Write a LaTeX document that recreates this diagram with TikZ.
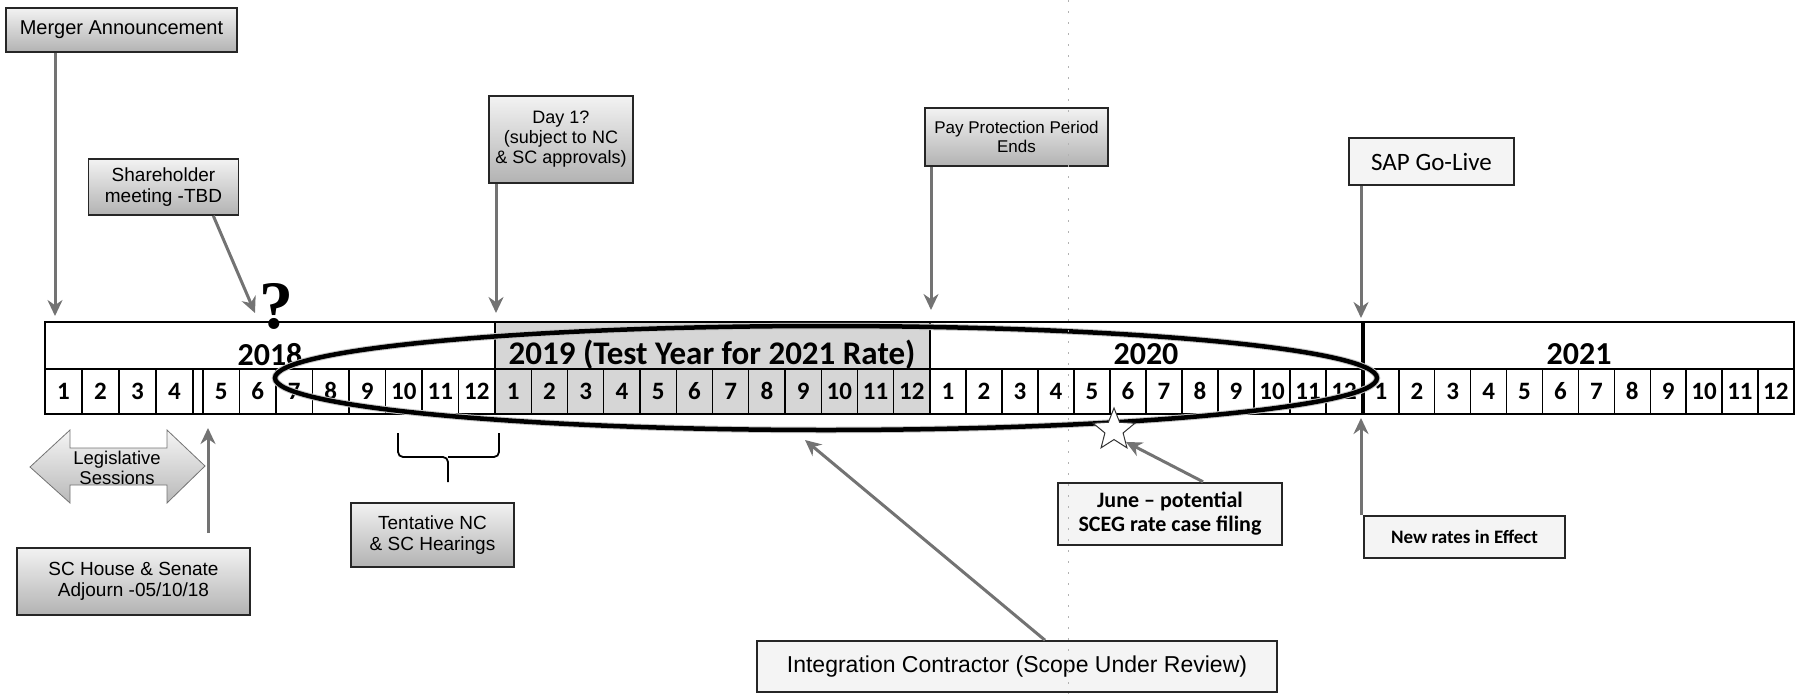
\documentclass[tikz,border=0pt]{standalone}
\usepackage{fontspec}
\setmainfont{Liberation Sans}
\newfontfamily\calibrifont{Carlito}
\newfontfamily\qmarkfont{Liberation Serif}
\usetikzlibrary{arrows.meta, positioning, calc, shapes.geometric}

\begin{document}
\begin{tikzpicture}[x=1pt, y=-1pt,
    darkbox/.style={draw=black!85, line width=1.6pt, top color=gray!10, bottom color=gray!60,
                    align=center, inner sep=0pt, font=\fontsize{19}{20.5}\selectfont},
    lightbox/.style={draw=black!85, line width=1.6pt, fill=gray!9, inner sep=0pt},
    pointer/.style={draw=black!55, line width=3pt, -{Stealth[length=16pt, width=15pt]}},
    month/.style={anchor=base, inner sep=0pt, font=\calibrifont\bfseries\fontsize{25}{25}\selectfont},
    yearlabel/.style={anchor=base, inner sep=0pt, font=\calibrifont\bfseries\fontsize{32}{32}\selectfont}]

    % Canvas
    \useasboundingbox (0,0) rectangle (1796,694);

    % Test year shading
    \fill[gray!32] (495,322) rectangle (930,414);

    % Month row
    \draw[line width=1.3pt] (45,369) -- (1794,369);
    \foreach \m in {1,...,4} {
        \node[month] (m18-\m) at ({45+37*(\m-0.5)},399) {\m};
        \draw[line width=1.3pt] ({45+37*\m},369) -- ++(0,45);
    }
    \draw[line width=1.3pt] (203,369) -- (203,414);
    \foreach \m in {5,...,12}
        \node[month] (m18-\m) at ({203+36.5*(\m-4.5)},399) {\m};
    \foreach \m in {5,...,11}
        \draw[line width=1.3pt] ({203+36.5*(\m-4)},369) -- ++(0,45);
    \foreach \yr/\xs/\w in {19/495/36.25, 20/930/36, 21/1363/35.9} {
        \foreach \m in {1,...,12}
            \node[month] (m\yr-\m) at ({\xs+\w*(\m-0.5)},399) {\m};
        \foreach \m in {1,...,11}
            \draw[line width=1.3pt] ({\xs+\w*\m},369) -- ++(0,45);
    }

    % Year labels
    \node[yearlabel] (y18) at (270,365) {2018};
    \node[yearlabel, font=\calibrifont\bfseries\fontsize{33}{33}\selectfont] (y19) at (712,364) {2019 (Test Year for 2021 Rate)};
    \node[yearlabel] (y20) at (1146,364) {2020};
    \node[yearlabel] (y21) at (1579,364) {2021};

    % Frame and year dividers
    \draw[line width=2.8pt] (45,322) rectangle (1794,414);
    \foreach \xb in {495,930}
        \draw[line width=2.5pt] (\xb,322) -- (\xb,414);
    \draw[line width=3.5pt] (1363,322) -- (1363,414);

    % Integration window
    \draw[gray!45, line width=6.5pt] (826,378) ellipse [x radius=551, y radius=52];
    \draw[line width=4.5pt] (826,378) ellipse [x radius=551, y radius=52];

    % Star and question mark
    \node[star, star points=5, star point ratio=2.3, minimum size=44pt, inner sep=0pt,
          draw=black!80, line width=1pt, fill=white] (star) at (1114,430) {};
    \node[anchor=base, inner sep=0pt, font=\qmarkfont\bfseries\fontsize{68}{68}\selectfont] (qmark) at (276,328) {?};

    % Callout boxes
    \node[darkbox, minimum width=231pt, minimum height=44pt, font=\fontsize{20}{22}\selectfont] (merger) at (121.5,30) {Merger Announcement};
    \node[darkbox, minimum width=150pt, minimum height=56pt] (holder) at (163.5,187) {Shareholder\\meeting -TBD};
    \node[darkbox, minimum width=144pt, minimum height=87pt, font=\fontsize{18}{20}\selectfont] (dayone) at (561,139.5) {Day 1?\\(subject to NC\\\& SC approvals)};
    \node[darkbox, minimum width=183pt, minimum height=58pt, font=\fontsize{17}{19}\selectfont] (payend) at (1016.5,137) {Pay Protection Period\\Ends};
    \node[lightbox, minimum width=165pt, minimum height=47pt, font=\calibrifont\fontsize{25}{25}\selectfont] (sap) at (1431.5,161.5) {SAP Go-Live};
    \node[darkbox, minimum width=233pt, minimum height=67pt] (adjourn) at (133.5,581.5) {SC House \& Senate\\Adjourn -05/10/18};
    \node[darkbox, minimum width=163pt, minimum height=64pt] (hearings) at (432.5,535) {Tentative NC\\\& SC Hearings};
    \node[lightbox, line width=2.5pt, minimum width=224pt, minimum height=62pt, align=center,
          font=\calibrifont\bfseries\fontsize{22}{24}\selectfont] (june) at (1170,514) {June – potential\\SCEG rate case filing};
    \node[lightbox, minimum width=201pt, minimum height=42pt,
          font=\calibrifont\bfseries\fontsize{19}{21}\selectfont] (newrates) at (1464.5,537) {New rates in Effect};
    \node[lightbox, minimum width=520pt, minimum height=51pt,
          font=\fontsize{23}{24}\selectfont] (integ) at (1017,666.5) {Integration Contractor (Scope Under Review)};

    % Legislative sessions
    \draw[draw=black!55, line width=0.8pt, top color=gray!8, bottom color=gray!55]
        (30,467) -- (70,430) -- (70,448) -- (167,448) -- (167,430) -- (205,466)
        -- (167,503) -- (167,485) -- (70,485) -- (70,503) -- cycle;
    \node[align=center, inner sep=0pt, font=\fontsize{18.5}{19.5}\selectfont] (session) at (117,468) {Legislative\\Sessions};

    % Hearings brace
    \draw[line width=1.8pt, rounded corners=5pt] (398,433) |- (448,457) -- (448,482);
    \draw[line width=1.8pt, rounded corners=5pt] (499,433) |- (448,457);

    % Pointers
    \coordinate (mergertip) at (55,316);
    \draw[pointer] (mergertip |- merger.south) -- (mergertip);
    \coordinate (holdertip) at (255,313);
    \draw[pointer] ([xshift=-26pt]holder.south east) -- (holdertip);
    \coordinate (dayonetip) at (496,313);
    \draw[pointer] (dayonetip |- dayone.south) -- (dayonetip);
    \coordinate (paytip) at (931,310);
    \draw[pointer] (paytip |- payend.south) -- (paytip);
    \coordinate (saptip) at (1361,318);
    \draw[pointer] (saptip |- sap.south) -- (saptip);
    \coordinate (adjourntip) at (208,428);
    \draw[pointer] ($(adjourntip |- adjourn.north)+(0,-14)$) -- (adjourntip);
    \draw[pointer] ([xshift=33pt]june.north) -- (star.south east);
    \coordinate (ratestip) at (1361,418);
    \draw[pointer] (ratestip |- newrates.north) -- (ratestip);
    \coordinate (integtip) at (805,440);
    \draw[pointer] ([xshift=28pt]integ.north) -- (integtip);

    % Scan line
    \draw[black!30, dash pattern=on 2pt off 9pt, line width=0.8pt] (1068,0) -- (1068,694);
\end{tikzpicture}
\end{document}
